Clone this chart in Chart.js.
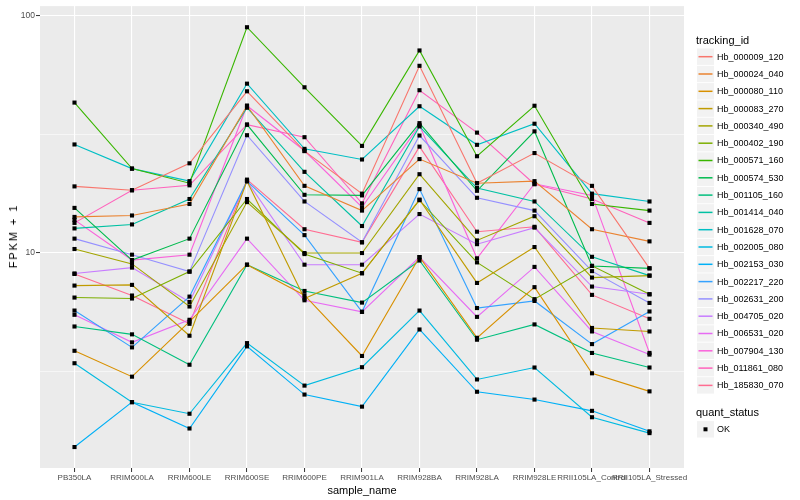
<!DOCTYPE html>
<html>
<head>
<meta charset="utf-8">
<script src="https://cdn.jsdelivr.net/npm/chart.js@4.4.1/dist/chart.umd.min.js"></script>
<style>
  html, body { margin: 0; padding: 0; background: #fff; }
  #wrap { position: relative; width: 800px; height: 500px; font-family: "Liberation Sans", Arial, sans-serif; }
  #c { position: absolute; left: 0; top: 0; }
  #ytitle {
    position: absolute; left: 13px; top: 236px; font-size: 11px; color: #000; letter-spacing: 1.9px;
    white-space: nowrap; transform: translate(-50%, -50%) rotate(-90deg);
  }
</style>
</head>
<body>
<div id="wrap">
  <canvas id="c" width="800" height="500"></canvas>
  <div id="ytitle">FPKM + 1</div>
</div>
<script>
/* sample_name categories along x */
const categories = ["PB350LA", "RRIM600LA", "RRIM600LE", "RRIM600SE", "RRIM600PE", "RRIM901LA",
  "RRIM928BA", "RRIM928LA", "RRIM928LE", "RRII105LA_Control", "RRII105LA_Stressed"];

/* tracking_id series, FPKM + 1 per sample */
const trackingIds = ["Hb_000009_120", "Hb_000024_040", "Hb_000080_110", "Hb_000083_270", "Hb_000340_490",
  "Hb_000402_190", "Hb_000571_160", "Hb_000574_530", "Hb_001105_160", "Hb_001414_040",
  "Hb_001628_070", "Hb_002005_080", "Hb_002153_030", "Hb_002217_220", "Hb_002631_200",
  "Hb_004705_020", "Hb_006531_020", "Hb_007904_130", "Hb_011861_080", "Hb_185830_070"];

const hb000009 = [19.1, 18.4, 23.9, 48.1, 26.9, 17.8, 61.6, 19.7, 26.4, 19.2, 8.62];
const hb000024 = [14.2, 14.4, 16.1, 41.8, 19.2, 15.1, 24.9, 19.7, 20.1, 12.6, 11.2];
const hb000080 = [3.87, 3.01, 5.14, 8.93, 6.64, 3.68, 9.62, 4.39, 7.18, 3.11, 2.61];
const hb000083 = [7.29, 7.34, 4.48, 20.1, 6.43, 8.22, 16.8, 7.48, 10.6, 4.83, 4.67];
const hb000340 = [10.4, 9.0, 5.95, 16.4, 10.0, 10.0, 21.5, 11.3, 14.3, 7.88, 8.03];
const hb000402 = [6.49, 6.43, 8.35, 16.9, 9.9, 8.22, 16.7, 9.13, 6.39, 8.83, 6.70];
const hb000571 = [43.1, 22.7, 19.7, 89.6, 50.0, 28.3, 71.5, 25.6, 41.8, 16.1, 15.1];
const hb000574 = [15.5, 9.34, 11.5, 34.8, 17.6, 17.5, 35.3, 18.3, 32.6, 8.82, 8.62];
const hb001105 = [4.90, 4.54, 3.38, 8.93, 6.92, 6.18, 9.3, 4.31, 5.0, 3.79, 3.29];
const hb001414 = [12.7, 13.2, 16.9, 41.0, 22.0, 13.0, 34.2, 18.8, 16.5, 9.64, 8.03];
const hb001628 = [28.7, 22.7, 20.1, 51.8, 27.5, 24.8, 41.6, 28.6, 35.1, 17.8, 16.5];
const hb002005 = [3.43, 2.35, 2.10, 4.17, 2.76, 3.30, 5.72, 2.93, 3.29, 2.03, 1.74];
const hb002153 = [1.52, 2.35, 1.82, 4.04, 2.53, 2.25, 4.76, 2.60, 2.41, 2.16, 1.77];
const hb002217 = [5.72, 4.0, 6.55, 20.1, 11.9, 5.65, 18.6, 5.86, 6.28, 4.13, 5.67];
const hb002631 = [11.5, 9.84, 8.35, 31.4, 16.5, 11.1, 31.3, 17.1, 15.1, 8.39, 6.16];
const hb004705 = [8.2, 8.68, 6.22, 20.1, 8.93, 8.93, 14.6, 10.9, 12.8, 7.22, 6.70];
const hb006531 = [5.49, 4.20, 5.23, 11.5, 6.32, 5.65, 9.62, 5.38, 8.74, 4.67, 3.73];
const hb007904 = [13.8, 9.34, 9.84, 41.8, 27.0, 15.6, 34.6, 9.5, 19.6, 17.5, 3.79];
const hb011861 = [13.4, 18.4, 19.3, 34.8, 30.8, 16.2, 48.6, 32.2, 19.5, 16.9, 13.4];
const hb185830 = [8.16, 6.62, 5.03, 20.4, 12.6, 11.1, 28.1, 12.3, 12.9, 6.66, 5.28];

const seriesValues = [hb000009, hb000024, hb000080, hb000083, hb000340, hb000402, hb000571, hb000574,
  hb001105, hb001414, hb001628, hb002005, hb002153, hb002217, hb002631, hb004705, hb006531,
  hb007904, hb011861, hb185830];

/* y axis: labelled ticks and minor breaks (log10 scale) */
const yTickLabels = [10, 100];
const yMinorBreaks = [Math.sqrt(10), Math.sqrt(1000)];

/* ggplot2 default hue palette for 20 levels */
const palette = ["#F8766D", "#EA8331", "#D89000", "#C09B00", "#A3A500", "#7CAE00", "#39B600", "#00BB4E",
  "#00BF7D", "#00C1A3", "#00BFC4", "#00BAE0", "#00B0F6", "#35A2FF", "#9590FF", "#C77CFF",
  "#E76BF3", "#FA62DB", "#FF62BC", "#FF6C91"];

/* ── panel background like theme_grey ─────────────────────────────────── */
const panelBg = {
  id: "panelBg",
  beforeDraw(chart) {
    const { ctx, chartArea: a } = chart;
    ctx.save();
    ctx.fillStyle = "#EBEBEB";
    ctx.fillRect(a.left, a.top, a.right - a.left, a.bottom - a.top);
    ctx.restore();
  },
};

/* ── ggplot-style guide column on the right ───────────────────────────── */
const guide = {
  id: "guide",
  afterDraw(chart) {
    const ctx = chart.ctx;
    const x0 = 697, top = 56.7, step = 17.3;
    ctx.save();
    ctx.textBaseline = "middle";
    ctx.fillStyle = "#000";
    ctx.font = "11px 'Liberation Sans'";
    ctx.fillText("tracking_id", 696, 40.5);
    trackingIds.forEach((id, i) => {
      const cy = top + i * step;
      ctx.fillStyle = "#F2F2F2";
      ctx.fillRect(x0, cy - 8.2, 17, 16.4);
      ctx.strokeStyle = palette[i];
      ctx.lineWidth = 1.5;
      ctx.beginPath();
      ctx.moveTo(x0 + 1.5, cy);
      ctx.lineTo(x0 + 15.5, cy);
      ctx.stroke();
      ctx.fillStyle = "#000";
      ctx.font = "9px 'Liberation Sans'";
      ctx.fillText(id, 717, cy + 0.5);
    });
    ctx.font = "11px 'Liberation Sans'";
    ctx.fillText("quant_status", 696, 412.5);
    const okY = 429.3;
    ctx.fillStyle = "#F2F2F2";
    ctx.fillRect(x0, okY - 8.2, 17, 16.4);
    ctx.fillStyle = "#000";
    ctx.fillRect(x0 + 6.5, okY - 2, 4, 4);
    ctx.font = "9px 'Liberation Sans'";
    ctx.fillText("OK", 717, okY + 0.5);
    ctx.restore();
  },
};

const lineSets = seriesValues.map((vals, i) => ({
  type: "line",
  label: trackingIds[i],
  data: vals.map((v, j) => ({ x: j, y: v })),
  borderColor: palette[i],
  borderWidth: 1.1,
  pointRadius: 0,
  tension: 0,
  order: 2,
}));

// all points on top of every line, as geom_point comes after geom_line
const pointSet = {
  type: "scatter",
  label: "OK",
  data: seriesValues.flatMap((vals) => vals.map((v, j) => ({ x: j, y: v }))),
  pointStyle: "rect",
  pointRadius: 2.9,
  pointBackgroundColor: "#000",
  pointBorderWidth: 0,
  showLine: false,
  order: 1,
};

const isMajor = (v) => yTickLabels.some((t) => Math.abs(t - v) < 1e-6);

new Chart(document.getElementById("c"), {
  type: "line",
  data: { datasets: [...lineSets, pointSet] },
  plugins: [panelBg, guide],
  options: {
    responsive: false,
    animation: false,
    devicePixelRatio: 1,
    layout: { padding: { left: 0, top: 5, right: 116, bottom: 0 } },
    plugins: { legend: { display: false }, tooltip: { enabled: false } },
    scales: {
      x: {
        type: "linear",
        min: -0.6,
        max: categories.length - 0.4,
        afterBuildTicks: (s) => { s.ticks = categories.map((_, i) => ({ value: i })); },
        afterFit: (s) => { s.height = 32; },
        ticks: {
          autoSkip: false, maxRotation: 0, padding: 1,
          color: "#4D4D4D", font: { family: "Liberation Sans", size: 8 },
          callback: (v) => categories[v],
        },
        grid: { color: "#FFFFFF", lineWidth: 1.1, tickLength: 4, tickColor: "#333333", tickWidth: 1 },
        border: { display: false },
        title: {
          display: true, text: "sample_name", color: "#000",
          font: { family: "Liberation Sans", size: 11 }, padding: { top: 0, bottom: 2 },
        },
      },
      y: {
        type: "logarithmic",
        min: 1.24,
        max: 110,
        afterBuildTicks: (s) => {
          s.ticks = [...yTickLabels, ...yMinorBreaks].sort((a, b) => a - b).map((v) => ({ value: v }));
        },
        afterFit: (s) => { s.width = 40; },
        ticks: {
          padding: 1, color: "#4D4D4D", font: { family: "Liberation Sans", size: 8.5 },
          callback: (v) => (isMajor(v) ? String(v) : ""),
        },
        grid: {
          color: "#FFFFFF",
          lineWidth: (c) => (isMajor(c.tick.value) ? 1.1 : 0.55),
          tickLength: 4,
          tickColor: (c) => (isMajor(c.tick.value) ? "#333333" : "rgba(0,0,0,0)"),
          tickWidth: 1,
        },
        border: { display: false },
        title: { display: false },
      },
    },
  },
});
</script>
</body>
</html>
